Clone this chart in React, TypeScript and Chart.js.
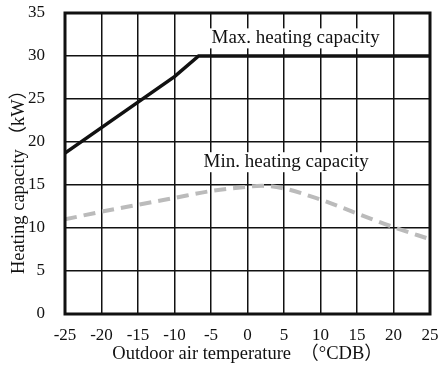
import React, { useEffect, useRef } from "react";
import { Chart, registerables } from "chart.js";

Chart.register(...registerables);

const xTicks = [-25, -20, -15, -10, -5, 0, 5, 10, 15, 20, 25];
const maxX = [-25, -10, -6.7, 25];
const maxY = [18.7, 27.6, 30, 30];
const minX = [-25, -20, -15, -10, -5, 0, 2, 5, 10, 15, 20, 25];
const minY = [11.0, 11.9, 12.7, 13.5, 14.3, 14.8, 14.9, 14.6, 13.3, 11.7, 10.1, 8.7];
const labels = [
  { text: "Max. heating capacity", x: 6.6, y: 32.05 },
  { text: "Min. heating capacity", x: 5.3, y: 17.65 },
];
const yTitle = "Heating capacity （kW）";
const xTitle = "Outdoor air temperature  （°CDB）";
const FONT = "'Liberation Serif', 'Times New Roman', 'Noto Sans CJK JP', serif";

const labelPlugin = {
  id: "labelsAndFrame",
  afterDatasetsDraw(chart: any) {
    const { ctx, chartArea, scales } = chart;
    ctx.save();
    ctx.font = `19px ${FONT}`;
    ctx.textAlign = "center";
    ctx.textBaseline = "middle";
    for (const l of labels) {
      const px = scales.x.getPixelForValue(l.x);
      const py = scales.y.getPixelForValue(l.y);
      const w = ctx.measureText(l.text).width;
      ctx.fillStyle = "#fff";
      ctx.fillRect(px - w / 2 - 2, py - 10, w + 4, 20);
      ctx.fillStyle = "#111";
      ctx.fillText(l.text, px, py);
    }
    ctx.strokeStyle = "#111";
    ctx.lineWidth = 3;
    ctx.strokeRect(chartArea.left, chartArea.top, chartArea.right - chartArea.left, chartArea.bottom - chartArea.top);
    ctx.translate(19, chartArea.bottom - 40);
    ctx.rotate(-Math.PI / 2);
    ctx.font = `18.5px ${FONT}`;
    ctx.textAlign = "left";
    ctx.textBaseline = "middle";
    ctx.fillStyle = "#111";
    ctx.fillText(yTitle, 0, 0);
    ctx.restore();
  },
};

export default function App() {
  const ref = useRef<HTMLCanvasElement>(null);
  useEffect(() => {
    if (!ref.current) return;
    const chart = new Chart(ref.current, {
      type: "line",
      data: {
        datasets: [
          {
            data: minX.map((x, i) => ({ x, y: minY[i] })),
            borderColor: "#bbbbbb",
            borderWidth: 4,
            borderDash: [12, 7],
            pointRadius: 0,
            tension: 0.4,
            cubicInterpolationMode: "monotone",
          },
          {
            data: maxX.map((x, i) => ({ x, y: maxY[i] })),
            borderColor: "#111",
            borderWidth: 3.5,
            pointRadius: 0,
            tension: 0,
          },
        ],
      },
      options: {
        animation: false,
        responsive: true,
        maintainAspectRatio: false,
        layout: { padding: { top: 13, right: 9, left: 0, bottom: 0 } },
        plugins: { legend: { display: false }, tooltip: { enabled: false } },
        scales: {
          x: {
            type: "linear",
            min: -25,
            max: 25,
            afterBuildTicks: (s: any) => { s.ticks = xTicks.map((v) => ({ value: v })); },
            afterFit: (s: any) => { s.height = 55; s.paddingLeft = 0; s.paddingRight = 0; },
            grid: { color: "#111", lineWidth: 1.5, drawTicks: false },
            border: { display: false },
            ticks: { color: "#111", font: { family: FONT, size: 17 }, padding: 11, maxRotation: 0 },
            title: { display: true, text: xTitle, color: "#111", font: { family: FONT, size: 18.5 }, padding: { top: 0, bottom: 4 } },
          },
          y: {
            min: 0,
            max: 35,
            ticks: { stepSize: 5, color: "#111", font: { family: FONT, size: 17 }, padding: 20 },
            afterFit: (s: any) => { s.width = 65; s.paddingTop = 0; s.paddingBottom = 0; },
            grid: { color: "#111", lineWidth: 1.5, drawTicks: false },
            border: { display: false },
          },
        },
      },
      plugins: [labelPlugin],
    });
    return () => chart.destroy();
  }, []);
  return (
    <div style={{ position: "absolute", left: 0, top: 0, width: 439, height: 369 }}>
      <canvas ref={ref} />
    </div>
  );
}
